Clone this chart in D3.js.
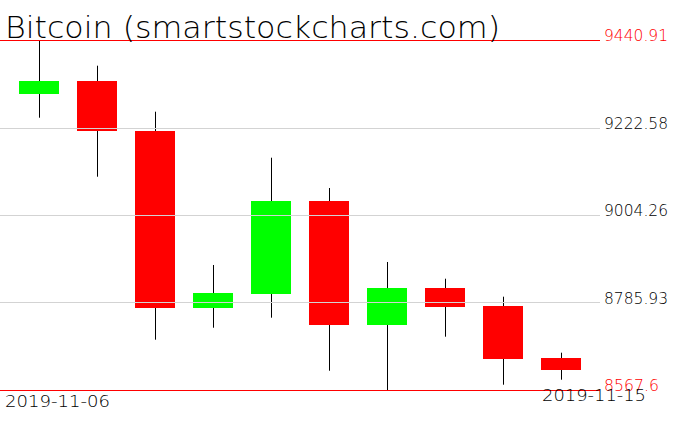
<!DOCTYPE html>
<html>
<head>
    <meta charset="UTF-8">
    <title>Bitcoin candles</title>
    <script src="https://d3js.org/d3.v7.min.js"></script>
    <style type="text/css">
        body { margin: 0; background: #fff; }
        text { font-family: "DejaVu Sans", sans-serif; font-weight: 200; }
    </style>
</head>
<body>
    <script type="text/javascript">
        // daily data
        var dates = ["2019-11-06", "2019-11-07", "2019-11-08", "2019-11-09", "2019-11-10",
                     "2019-11-11", "2019-11-12", "2019-11-13", "2019-11-14", "2019-11-15"];
        var open  = [9306.9, 9338.6, 9214.6, 8772.9, 8807.9, 9039.2, 8730.5, 8822.8, 8778.0, 8647.4];
        var high  = [9440.9, 9376.8, 9262.0, 8879.5, 9147.2, 9071.6, 8887.0, 8845.3, 8800.4, 8660.7];
        var low   = [9247.0, 9099.8, 8693.1, 8723.0, 8748.0, 8615.7, 8567.6, 8700.6, 8580.8, 8593.3];
        var close = [9338.6, 9214.6, 8772.9, 8809.6, 9039.2, 8730.5, 8822.8, 8775.4, 8645.7, 8618.2];
        var yTicks = [8567.6, 8785.93, 9004.26, 9222.58, 9440.91];
        var yTickLabels = ["8567.6", "8785.93", "9004.26", "9222.58", "9440.91"];
        var title = "Bitcoin (smartstockcharts.com)";

        var width = 676, height = 431;
        var plotRight = 600;

        var svg = d3.select("body").append("svg")
            .attr("width", width)
            .attr("height", height);

        var x = d3.scaleBand()
            .domain(dates)
            .range([10, 590])
            .paddingInner(0.31)
            .paddingOuter(0.155);

        var y = d3.scaleLinear()
            .domain([yTicks[0], yTicks[yTicks.length - 1]])
            .range([390, 40]);

        var data = dates.map(function (d, i) {
            return { date: d, open: open[i], high: high[i], low: low[i], close: close[i] };
        });

        var candles = svg.append("g").attr("class", "candles");

        // wicks
        candles.selectAll("line.wick")
            .data(data)
            .enter().append("line")
            .attr("class", "wick")
            .attr("x1", function (d) { return Math.floor(x(d.date) + x.bandwidth() / 2) + 0.5; })
            .attr("x2", function (d) { return Math.floor(x(d.date) + x.bandwidth() / 2) + 0.5; })
            .attr("y1", function (d) { return y(d.high); })
            .attr("y2", function (d) { return y(d.low); })
            .attr("stroke", "#000")
            .attr("stroke-width", 1);

        // bodies
        candles.selectAll("rect.body")
            .data(data)
            .enter().append("rect")
            .attr("class", "body")
            .attr("x", function (d) { return x(d.date); })
            .attr("width", x.bandwidth())
            .attr("y", function (d) { return y(Math.max(d.open, d.close)); })
            .attr("height", function (d) { return Math.abs(y(d.open) - y(d.close)); })
            .attr("fill", function (d) { return d.close >= d.open ? "#00ff00" : "#ff0000"; })
            .attr("shape-rendering", "crispEdges");

        // grid + right labels (drawn over the candles)
        var yAxis = d3.axisRight(y)
            .tickValues(yTicks)
            .tickSize(plotRight)
            .tickPadding(4)
            .tickFormat(function (d, i) { return yTickLabels[i]; });

        var ga = svg.append("g")
            .attr("class", "y axis")
            .call(yAxis);
        ga.select(".domain").remove();
        ga.selectAll(".tick line")
            .attr("stroke", function (d, i) { return (i === 0 || i === yTicks.length - 1) ? "#ff0000" : "#d3d3d3"; })
            .attr("shape-rendering", "crispEdges");
        ga.selectAll(".tick text")
            .attr("dy", "0.05em")
            .attr("fill", function (d, i) { return (i === 0 || i === yTicks.length - 1) ? "#ff0000" : "#000"; })
            .style("font-size", "15px")
            .attr("textLength", function (d, i) { return yTickLabels[i].length * 9.15; })
            .attr("lengthAdjust", "spacingAndGlyphs");

        // title
        svg.append("text")
            .attr("x", 5)
            .attr("y", 38)
            .style("font-size", "31px")
            .attr("textLength", 495)
            .attr("lengthAdjust", "spacingAndGlyphs")
            .text(title);

        // first / last date
        svg.append("text")
            .attr("x", 5)
            .attr("y", 407)
            .style("font-size", "15px")
            .attr("textLength", 105)
            .attr("lengthAdjust", "spacingAndGlyphs")
            .text(dates[0]);

        svg.append("text")
            .attr("x", 542)
            .attr("y", 401)
            .style("font-size", "15px")
            .attr("textLength", 104)
            .attr("lengthAdjust", "spacingAndGlyphs")
            .text(dates[dates.length - 1]);
    </script>
</body>
</html>
